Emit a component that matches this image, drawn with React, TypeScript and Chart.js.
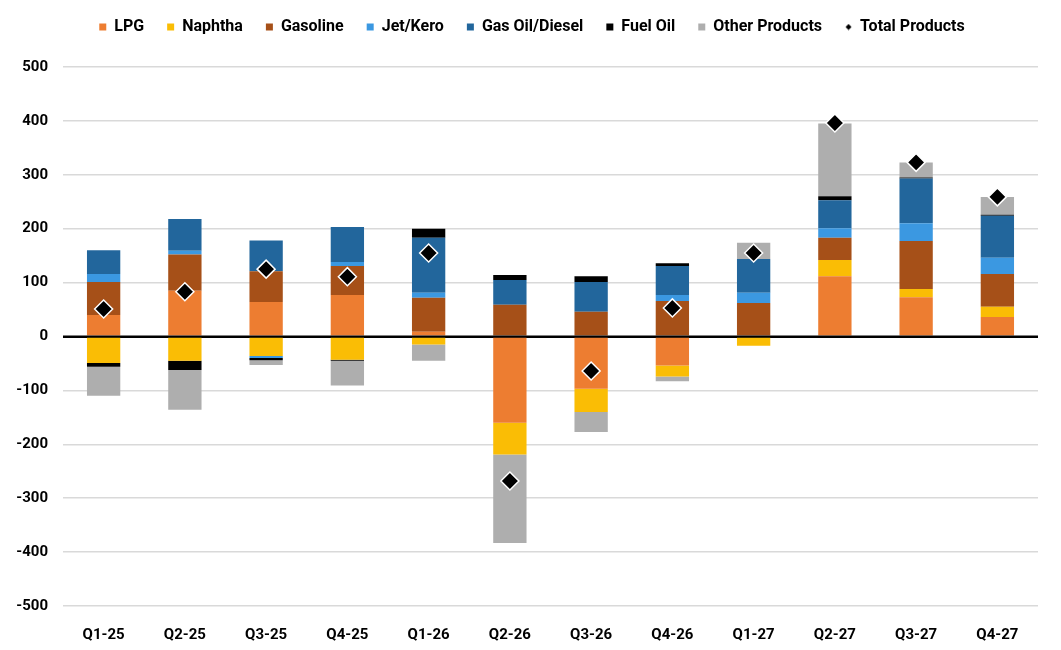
import React, { useEffect, useRef } from "react";
import { Chart, registerables } from "chart.js";

Chart.register(...registerables);

const categories = ["Q1-25", "Q2-25", "Q3-25", "Q4-25", "Q1-26", "Q2-26", "Q3-26", "Q4-26", "Q1-27", "Q2-27", "Q3-27", "Q4-27"];
const lpg = [40, 85, 64, 77, 9, -160, -97, -54, 0, 112, 73, 36];
const naphtha = [-49, -45, -36, -43, -15, -59, -43, -20, -17, 30, 15, 19];
const gasoline = [61, 67, 57, 54, 63, 59, 46, 66, 62, 41, 89, 61];
const jetKero = [15, 7, -4, 7, 9, 0, 0, 11, 19, 18, 33, 30];
const gasOilDiesel = [44, 59, 57, 65, 102, 46, 55, 54, 63, 52, 83, 78];
const fuelOil = [-7, -17, -4, -2, 17, 9, 11, 5, 0, 7, 2, 2];
const otherProducts = [-54, -74, -9, -46, -30, -164, -37, -9, 30, 135, 28, 33];
const totalProducts = [51, 83, 125, 111, 155, -268, -64, 53, 155, 396, 323, 259];
const yTicks = [-500, -400, -300, -200, -100, 0, 100, 200, 300, 400, 500];

const FONT = "Roboto, 'Noto Sans', sans-serif";

export default function App() {
  const ref = useRef<HTMLCanvasElement | null>(null);

  useEffect(() => {
    if (!ref.current) return;

    const legendDiamond = document.createElement("canvas");
    legendDiamond.width = 7;
    legendDiamond.height = 7;
    const dctx = legendDiamond.getContext("2d");
    if (dctx) {
      dctx.fillStyle = "#000";
      dctx.beginPath();
      dctx.moveTo(3.5, 0.5);
      dctx.lineTo(6.5, 3.5);
      dctx.lineTo(3.5, 6.5);
      dctx.lineTo(0.5, 3.5);
      dctx.closePath();
      dctx.fill();
    }

    const bar = (label: string, data: number[], color: string) => ({
      type: "bar" as const,
      label,
      data,
      backgroundColor: color,
      borderWidth: 0,
      order: 1,
      stack: "products",
      pointStyle: "rect",
      barPercentage: 0.41,
      categoryPercentage: 1,
    });

    const zeroLine = {
      id: "zeroLine",
      afterDatasetsDraw(chart: any) {
        const y = chart.scales.y;
        const py = y.getPixelForValue(0);
        const ctx = chart.ctx;
        ctx.save();
        ctx.strokeStyle = "#000";
        ctx.lineWidth = 2;
        ctx.beginPath();
        ctx.moveTo(chart.chartArea.left, py);
        ctx.lineTo(chart.chartArea.right, py);
        ctx.stroke();
        ctx.restore();
      },
    };

    const legendSpacing = {
      id: "legendSpacing",
      beforeLayout(chart: any) {
        const lg = chart.legend;
        if (lg && !lg._spacingPatched) {
          const orig = lg.fit.bind(lg);
          lg.fit = function () {
            orig();
            this.height += 22;
          };
          lg._spacingPatched = true;
        }
      },
      afterLayout(chart: any) {
        const lg = chart.legend;
        if (lg) {
          lg.left = 3;
          lg.right = chart.width;
          lg.width = lg.right - lg.left;
        }
      },
    };

    const chart = new Chart(ref.current, {
      type: "bar",
      data: {
        labels: categories,
        datasets: [
          bar("LPG", lpg, "#ED7D31"),
          bar("Naphtha", naphtha, "#FABD05"),
          bar("Gasoline", gasoline, "#A65018"),
          bar("Jet/Kero", jetKero, "#3B98E1"),
          bar("Gas Oil/Diesel", gasOilDiesel, "#22669C"),
          bar("Fuel Oil", fuelOil, "#000000"),
          bar("Other Products", otherProducts, "#AEAEAE"),
          {
            type: "line" as const,
            label: "Total Products",
            data: totalProducts,
            showLine: false,
            pointStyle: "rectRot",
            pointRadius: 9,
            pointHoverRadius: 9,
            pointBackgroundColor: "#000",
            pointBorderColor: "#fff",
            pointBorderWidth: 1.5,
            backgroundColor: "#000",
            borderColor: "#000",
            order: 0,
            stack: "total",
          } as any,
        ],
      },
      options: {
        animation: false,
        responsive: true,
        maintainAspectRatio: false,
        layout: { padding: { top: -4, right: 23, bottom: 0, left: 0 } },
        plugins: {
          tooltip: { enabled: false },
          legend: {
            position: "top",
            labels: {
              usePointStyle: true,
              boxWidth: 7,
              boxHeight: 7,
              padding: 23,
              color: "#000",
              font: { family: FONT, size: 16, weight: "bold" },
              sort: (a: any, b: any) => a.datasetIndex - b.datasetIndex,
              generateLabels(c: any) {
                const items = Chart.defaults.plugins.legend.labels.generateLabels(c);
                items.forEach((it: any) => {
                  if (it.text === "Total Products") {
                    it.pointStyle = legendDiamond;
                  } else {
                    it.pointStyle = "rect";
                    it.lineWidth = 0;
                  }
                });
                return items;
              },
            },
          },
        },
        scales: {
          x: {
            stacked: true,
            grid: { display: false },
            border: { display: false },
            ticks: {
              color: "#000",
              padding: 12,
              font: { family: FONT, size: 15, weight: "bold" },
            },
            afterFit(scale: any) {
              scale.height = 44;
            },
          },
          y: {
            stacked: true,
            min: -500,
            max: 500,
            afterBuildTicks(scale: any) {
              scale.ticks = yTicks.map((v) => ({ value: v }));
            },
            grid: {
              color: (ctx: any) => (ctx.tick && ctx.tick.value === 0 ? "#000" : "#D9D9D9"),
              lineWidth: (ctx: any) => (ctx.tick && ctx.tick.value === 0 ? 2 : 1.5),
              drawTicks: false,
            },
            border: { display: false },
            ticks: {
              color: "#000",
              padding: 15,
              font: { family: FONT, size: 15, weight: "bold" },
            },
            afterFit(scale: any) {
              scale.width = 63;
            },
          },
        },
      } as any,
      plugins: [zeroLine, legendSpacing],
    });

    return () => chart.destroy();
  }, []);

  return (
    <div style={{ position: "absolute", left: 0, top: 0, width: 1061, height: 650 }}>
      <canvas ref={ref} />
    </div>
  );
}
